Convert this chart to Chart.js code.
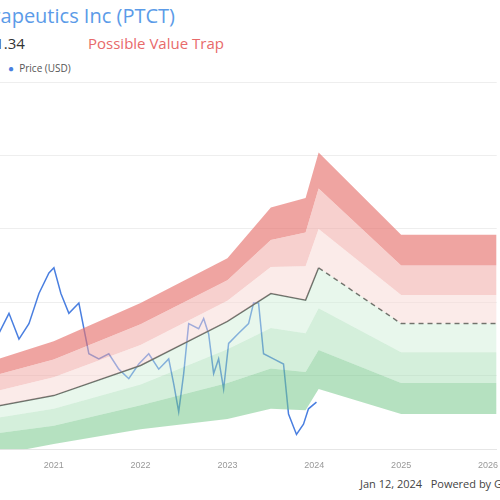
<!DOCTYPE html>
<html>
<head>
<meta charset="utf-8">
<script src="https://cdn.jsdelivr.net/npm/chart.js@4"></script>
<style>
body { margin:0; background:#fff; font-family:"Open Sans", Arial, sans-serif; }
#wrap { position:relative; width:500px; height:500px; overflow:hidden; }
#box { position:absolute; left:-1px; top:82px; width:502px; height:392px; }
.t { position:absolute; white-space:nowrap; }
</style>
</head>
<body>
<div id="wrap">
<div class="t" style="left:-83px;top:2px;font-size:20px;color:#5b9be8;">PTC Therapeutics Inc (PTCT)</div>
<div class="t" style="left:-22px;top:33px;font-size:15px;color:#333;">$21.34</div>
<div class="t" style="left:88px;top:33px;font-size:15px;color:#e86a6a;">Possible Value Trap</div>
<div class="t" style="left:8px;top:61px;font-size:10px;color:#555;"><span style="color:#4a7fe0;">●</span>&nbsp; Price (USD)</div>
<div class="t" style="left:360px;top:476px;font-size:11px;color:#444;">Jan 12, 2024 &nbsp; Powered by GuruFocus</div>
<div id="box"><canvas id="c"></canvas></div>
</div>
<script>
// band breakpoints (year)
var bandYears = [2020.37, 2021, 2022, 2023, 2023.5, 2023.9, 2024.05, 2025, 2026.1];
var gfValue   = [5.9, 7.3, 11.4, 17.4, 21.2, 20.3, 24.7, 17.1, 17.1];
var redTop    = [12.3, 14.7, 19.9, 26, 32.9, 34.2, 40.4, 29.2, 29.2];
var redMid    = [10.2, 12.2, 17, 23, 28.5, 29.5, 35.5, 25, 25];
var redLow    = [8, 9.8, 14.2, 20.2, 24.8, 24.9, 30, 21, 21];
var greenHigh = [4.3, 5.5, 8.8, 13.6, 16.5, 15.8, 19.2, 13.2, 13.2];
var greenMid  = [2.2, 3.2, 6, 9, 11, 10.5, 13.5, 9, 9];
var greenLow  = [-0.7, 0.7, 2.7, 4.1, 5.5, 5.3, 8.2, 4.8, 4.8];

// price, x in pixels-from-left converted to years below
var priceX = [0,10,20,30,40,50,55,62,70,80,90,100,110,120,130,140,150,160,170,175,180,185,190,200,205,210,215,220,225,230,240,250,255,260,265,275,285,290,298,305,310,318];
var priceY = [15.8,18.5,15,17.1,21.2,24,24.7,21.2,18.5,19.9,13,12.3,13,10.9,9.6,11.6,13,10.9,12.3,8.9,5.1,10.3,17.1,16.4,17.8,15.7,10.3,12.3,8.2,14.4,15.8,17.1,19.9,19.9,13,12.3,11.6,4.8,2,3.4,5.5,6.4];

var yearTicks = [2021, 2022, 2023, 2024, 2025, 2026];

function pts(xs, ys) { return xs.map(function(x, i) { return {x: x, y: ys[i]}; }); }
var priceYears = priceX.map(function(p) { return 2020.37 + p / 87; });

function band(data, fill, color) {
  return { data: pts(bandYears, data), fill: fill, backgroundColor: color, borderWidth: 0, pointRadius: 0, tension: 0 };
}

var gfSolid = gfValue.map(function(v, i) { return bandYears[i] <= 2024.05 ? v : null; });
var gfDash = gfValue.map(function(v, i) { return bandYears[i] >= 2024.05 ? v : null; });

new Chart(document.getElementById("c"), {
  type: 'line',
  data: { datasets: [
    band(greenLow, false, 'rgba(0,0,0,0)'),
    band(greenMid, '-1', 'rgba(120,200,140,0.55)'),
    band(greenHigh, '-1', 'rgba(160,220,175,0.45)'),
    band(gfValue, '-1', 'rgba(205,238,212,0.45)'),
    band(redLow, '-1', 'rgba(248,215,212,0.5)'),
    band(redMid, '-1', 'rgba(240,170,165,0.55)'),
    band(redTop, '-1', 'rgba(230,115,110,0.65)'),
    { data: pts(bandYears, gfSolid), borderColor: '#222', borderWidth: 1.5, pointRadius: 0, fill: false, spanGaps: false },
    { data: pts(bandYears, gfDash), borderColor: '#222', borderWidth: 1.5, borderDash: [5, 4], pointRadius: 0, fill: false, spanGaps: false },
    { data: pts(priceYears, priceY), borderColor: '#4a7fe0', borderWidth: 1.5, pointRadius: 0, fill: false, tension: 0 }
  ]},
  options: {
    animation: false, responsive: true, maintainAspectRatio: false,
    layout: { padding: 0 },
    plugins: { legend: { display: false }, tooltip: { enabled: false } },
    scales: {
      x: { type: 'linear', min: 2020.37, max: 2026.1,
        afterBuildTicks: function(ax) { ax.ticks = yearTicks.map(function(v) { return {value: v}; }); },
        ticks: { color: '#999', font: { size: 9 }, callback: function(v) { return String(v); } },
        grid: { display: false }, border: { color: '#e6e6e6' } },
      y: { min: 0, max: 50, ticks: { display: false, stepSize: 10 },
        grid: { color: '#eeeeee', drawTicks: false }, border: { display: false } }
    }
  }
});
</script>
</body>
</html>
